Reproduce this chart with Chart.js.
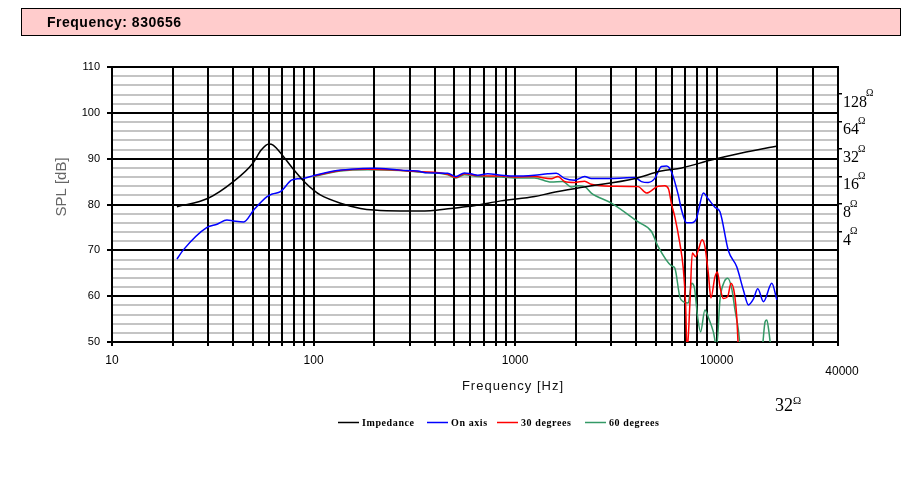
<!DOCTYPE html>
<html><head><meta charset="utf-8">
<script src="https://cdn.jsdelivr.net/npm/chart.js@4.4.1/dist/chart.umd.min.js"></script>
<style>html,body{margin:0;padding:0;background:#fff;}canvas{display:block;}</style>
</head><body>
<canvas id="c" width="921" height="485"></canvas>
<script>
// ---- data ----
const titleText = 'Frequency: 830656';
const seriesNames = ['Impedance', 'On axis', '30 degrees', '60 degrees'];

const impFreq = [21, 30, 40, 50, 55, 60, 63, 71, 80, 90, 100, 108, 136, 171, 200, 270, 380, 480, 625, 850, 1250, 1500, 2200, 3900, 5300, 6700, 9400, 13300, 20000];
const impOhm  = [7.5, 9.3, 14.1, 22.4, 31.2, 36.3, 35.4, 26.4, 18.9, 14.1, 11.4, 10.1, 8.2, 7.2, 6.9, 6.75, 6.8, 7.2, 7.7, 8.7, 9.7, 10.6, 12.3, 15.2, 18.4, 19.9, 24.3, 29.0, 34.6];

const onFreq = [21, 22.6, 29.6, 33.2, 37.2, 40.1, 45, 50.5, 58.8, 62.5, 68.5, 77.7, 83.2, 89.5, 100, 126, 153, 200, 271, 328, 368, 463, 509, 560, 604, 652, 731, 852, 992, 1247, 1455, 1600, 1759, 1972, 2213, 2388, 3004, 3923, 4236, 4574, 4932, 5326, 5640, 5972, 6449, 6696, 7090, 7508, 7953, 8137, 8588, 9093, 9806, 10385, 11435, 12578, 13579, 14379, 15226, 15996, 17076, 18779, 19886];
const onDb   = [68.1, 70.1, 75.0, 75.7, 76.6, 76.4, 76.2, 78.8, 81.7, 82.3, 82.8, 85.3, 85.6, 85.7, 86.3, 87.3, 87.7, 87.9, 87.5, 87.3, 86.9, 86.8, 86.1, 86.9, 86.7, 86.4, 86.7, 86.4, 86.2, 86.4, 86.7, 86.8, 85.7, 85.3, 86.1, 85.7, 85.7, 85.9, 85.0, 84.8, 85.7, 88.3, 88.4, 87.1, 82.1, 78.8, 76.0, 76.0, 77.0, 78.8, 82.5, 81.2, 79.4, 78.4, 69.9, 66.4, 61.3, 58.1, 59.4, 61.6, 58.8, 62.8, 59.2];

const d30Freq = [100, 136, 186, 242, 329, 463, 509, 560, 652, 852, 992, 1247, 1511, 1631, 1759, 1972, 2213, 2388, 3004, 4078, 4485, 5128, 5532, 5771, 5972, 6202, 6568, 6829, 7012, 7133, 7367, 7571, 7863, 8110, 8471, 8746, 9093, 9367, 9806, 10081, 10385, 10798, 11342, 11778, 12248, 12578, 12823];
const d30Db   = [86.2, 87.4, 87.7, 87.6, 87.2, 86.6, 85.9, 86.7, 86.3, 86.2, 86.0, 86.1, 85.6, 86.1, 85.0, 84.8, 85.1, 84.4, 84.0, 83.9, 82.5, 84.0, 84.1, 83.4, 80.1, 77.3, 71.5, 66.1, 58.4, 48, 58.4, 69.4, 68.6, 70.1, 72.3, 70.8, 65.0, 59.6, 64.2, 65.3, 62.1, 59.5, 59.9, 62.8, 60.6, 55.5, 48];

const d60Freq = [100, 136, 186, 271, 329, 463, 509, 560, 652, 852, 992, 1247, 1511, 1727, 1899, 2051, 2213, 2388, 3004, 4078, 4750, 5128, 5972, 6202, 6568, 6829, 7232, 7508, 7745, 8045, 8323, 8746, 9124, 9629, 10000, 10385, 10923, 11342, 11873, 12331, 12823, 13092, 14931, 16749, 17394, 17738, 18198, 18559, 19886];
const d60Db   = [86.1, 87.3, 87.6, 87.4, 87.1, 86.5, 85.8, 86.5, 86.1, 86.0, 85.8, 85.8, 84.9, 85.0, 83.8, 84.1, 83.9, 82.5, 80.3, 76.2, 74.1, 70.8, 66.6, 66.1, 59.8, 58.8, 58.5, 62.8, 62.0, 55.5, 52.2, 57.0, 55.2, 52.2, 49, 59.2, 63.2, 63.9, 61.7, 57.0, 52.6, 49, 46, 48, 54.4, 54.8, 52.0, 49, 47];

const xGridValues = [10, 20, 30, 40, 50, 60, 70, 80, 90, 100, 200, 300, 400, 500, 600, 700, 800, 900, 1000, 2000, 3000, 4000, 5000, 6000, 7000, 8000, 9000, 10000, 20000, 30000, 40000];
const xLabelValues = [10, 100, 1000, 10000];
const yGridValues = [50, 52, 54, 56, 58, 60, 62, 64, 66, 68, 70, 72, 74, 76, 78, 80, 82, 84, 86, 88, 90, 92, 94, 96, 98, 100, 102, 104, 106, 108, 110];
const yLabelValues = [50, 60, 70, 80, 90, 100, 110];
const ohmTicks = [4, 8, 16, 32, 64, 128];
const ohmRefDb = 62; // impedance axis: 1 ohm sits at 62 dB on the SPL scale

// ---- chart ----
const pts = (fs, vs) => fs.map((f, i) => ({x: f, y: vs[i]}));
const serif = '"Liberation Serif", "Times New Roman", serif';
const sans = '"Liberation Sans", Arial, sans-serif';

const textPlugin = {
  id: 'texts',
  afterDraw(chart) {
    const ctx = chart.ctx;
    const y2 = chart.scales.y2;
    ctx.save();
    // header bar
    ctx.fillStyle = '#ffcccc';
    ctx.fillRect(22, 9, 878, 26);
    ctx.strokeStyle = '#000'; ctx.lineWidth = 1;
    ctx.strokeRect(21.5, 8.5, 879, 27);
    ctx.fillStyle = '#000';
    ctx.font = 'bold 14px ' + sans;
    ctx.textAlign = 'left'; ctx.textBaseline = 'alphabetic';
    ctx.letterSpacing = '0.5px';
    ctx.fillText(titleText, 47, 27);
    ctx.letterSpacing = '0px';

    // y title
    ctx.save();
    ctx.translate(62, 187);
    ctx.rotate(-Math.PI / 2);
    ctx.fillStyle = '#666';
    ctx.font = '15px ' + sans;
    ctx.textAlign = 'center'; ctx.textBaseline = 'middle';
    ctx.fillText('SPL [dB]', 0, 0);
    ctx.restore();

    // x title
    ctx.fillStyle = '#111';
    ctx.font = '13px ' + sans;
    ctx.letterSpacing = '1px';
    ctx.textAlign = 'center'; ctx.textBaseline = 'middle';
    ctx.fillText('Frequency [Hz]', 513, 386);
    ctx.letterSpacing = '0px';

    // 40000 label
    ctx.font = '12px ' + sans;
    ctx.fillStyle = '#000';
    ctx.fillText('40000', 842, 372);

    // right axis labels (ohms)
    ctx.textAlign = 'left';
    ohmTicks.forEach(v => {
      const y = y2.getPixelForValue(v);
      ctx.font = '16px ' + serif;
      ctx.textBaseline = 'middle';
      const s = String(v);
      ctx.fillText(s, 843, y + 8.5);
      const w = ctx.measureText(s).width;
      ctx.font = '10px ' + serif;
      ctx.fillText('\u03A9', 842 + w, y);
    });
    // stray 32 ohm label
    ctx.font = '18px ' + serif;
    ctx.textBaseline = 'middle';
    ctx.fillText('32', 775, 406);
    const w32 = ctx.measureText('32').width;
    ctx.font = '11px ' + serif;
    ctx.fillText('\u03A9', 775 + w32, 401);

    // legend
    const legendX = [338, 427, 497, 585];
    const ly = 422;
    chart.data.datasets.forEach((ds, i) => {
      const x0 = legendX[i];
      ctx.strokeStyle = ds.borderColor; ctx.lineWidth = 1.5;
      ctx.beginPath(); ctx.moveTo(x0, ly + 0.5); ctx.lineTo(x0 + 21, ly + 0.5); ctx.stroke();
      ctx.fillStyle = '#000';
      ctx.font = 'bold 10px ' + serif;
      ctx.letterSpacing = '0.6px';
      ctx.textBaseline = 'middle'; ctx.textAlign = 'left';
      ctx.fillText(ds.label, x0 + 24, ly + 1);
      ctx.letterSpacing = '0px';
    });
    ctx.restore();
  }
};

new Chart(document.getElementById('c'), {
  type: 'line',
  data: {
    datasets: [
      {label: seriesNames[0], data: pts(impFreq, impOhm), yAxisID: 'y2', borderColor: '#000000'},
      {label: seriesNames[1], data: pts(onFreq, onDb), yAxisID: 'y', borderColor: '#0000ff'},
      {label: seriesNames[2], data: pts(d30Freq, d30Db), yAxisID: 'y', borderColor: '#ff0000'},
      {label: seriesNames[3], data: pts(d60Freq, d60Db), yAxisID: 'y', borderColor: '#339966'}
    ]
  },
  options: {
    responsive: false,
    animation: false,
    events: [],
    layout: {padding: {top: 67, left: 0, right: 0, bottom: 0}},
    elements: {
      point: {radius: 0},
      line: {borderWidth: 1.5, cubicInterpolationMode: 'monotone', fill: false}
    },
    plugins: {legend: {display: false}, tooltip: {enabled: false}, title: {display: false}},
    scales: {
      x: {
        type: 'logarithmic', position: 'bottom', min: 10, max: 40000,
        afterBuildTicks: s => { s.ticks = xGridValues.map(v => ({value: v})); },
        afterFit: s => { s.height = 143; },
        grid: {z: -1, color: '#000', lineWidth: 2, tickLength: 4, tickColor: '#000'},
        border: {display: true, color: '#000', width: 2},
        ticks: {
          autoSkip: false, maxRotation: 0, padding: 7, color: '#000',
          font: {family: sans, size: 12},
          callback: v => xLabelValues.includes(v) ? String(v) : ''
        }
      },
      y: {
        type: 'linear', position: 'left', min: 50, max: 110,
        afterBuildTicks: s => { s.ticks = yGridValues.map(v => ({value: v})); },
        afterFit: s => { s.width = 112; },
        grid: {
          z: -2,
          color: c => (c.tick && c.tick.value % 10 === 0) ? '#000' : '#c4c4c4',
          lineWidth: 2, tickLength: 5,
          tickColor: c => (c.tick && c.tick.value % 10 === 0) ? '#000' : 'rgba(0,0,0,0)'
        },
        border: {display: true, color: '#000', width: 2},
        ticks: {
          autoSkip: false, padding: 7, color: '#000',
          font: {family: sans, size: 11},
          callback: v => yLabelValues.includes(v) ? String(v) : ''
        }
      },
      y2: {
        type: 'logarithmic', position: 'right',
        min: Math.pow(10, (50 - ohmRefDb) / 20), max: Math.pow(10, (110 - ohmRefDb) / 20),
        afterBuildTicks: s => { s.ticks = ohmTicks.map(v => ({value: v})); },
        afterFit: s => { s.width = 83; },
        grid: {drawOnChartArea: false, tickLength: 4, tickColor: '#000', lineWidth: 1.5},
        border: {display: true, color: '#000', width: 2},
        ticks: {display: false}
      }
    }
  },
  plugins: [textPlugin]
});
</script>
</body></html>
